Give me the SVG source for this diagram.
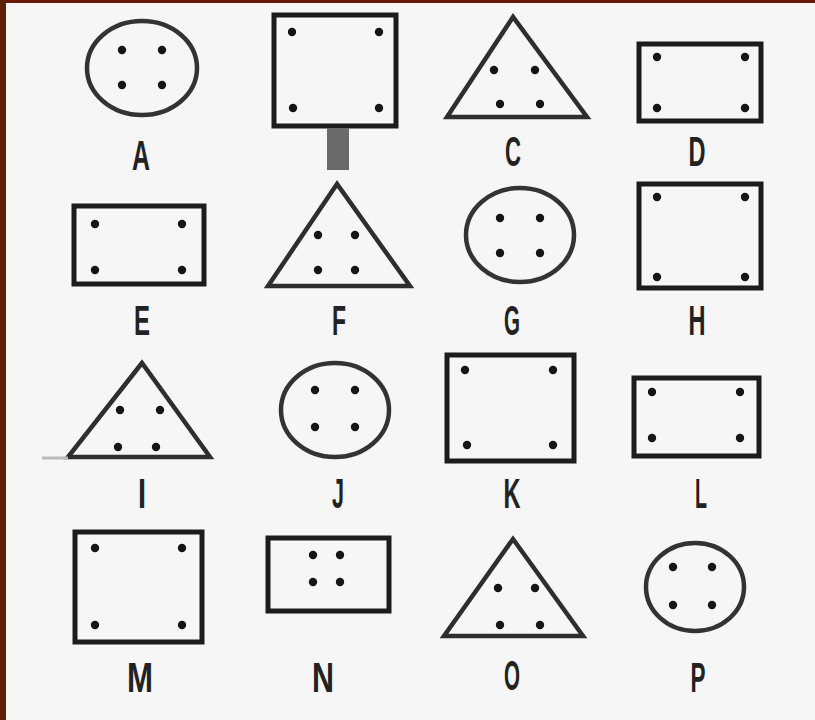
<svg xmlns="http://www.w3.org/2000/svg" width="815" height="720" viewBox="0 0 815 720">
<style>
.s{fill:none;stroke:#1c1c1c;stroke-width:5}
.t{fill:none;stroke:#2e2e2e;stroke-width:4.5;stroke-linejoin:miter}
.c{fill:none;stroke:#333;stroke-width:4.5}
.d{fill:#151515}
.l{font-family:"Liberation Sans",Arial,sans-serif;font-weight:bold;font-size:42px;fill:#222;text-anchor:middle}
</style>
<defs>
<circle id="dot" r="4.2" class="d"/>
</defs>
<rect x="0" y="0" width="815" height="720" fill="#f6f6f6"/>
<rect x="0" y="0" width="815" height="3" fill="#6a1a06"/>
<rect x="0" y="0" width="6" height="720" fill="#5c1e05"/>

<g id="A">
<ellipse cx="142" cy="68" rx="55" ry="47" class="c"/>
<use href="#dot" x="122" y="50"/><use href="#dot" x="162" y="50"/><use href="#dot" x="122" y="85"/><use href="#dot" x="162" y="85"/>
<text x="141" y="170" class="l" textLength="18" lengthAdjust="spacingAndGlyphs">A</text>
</g>
<g id="B">
<rect x="274" y="15" width="122" height="111" class="s"/>
<use href="#dot" x="292" y="32"/><use href="#dot" x="379" y="32"/><use href="#dot" x="293" y="108"/><use href="#dot" x="379" y="108"/>
<rect x="327" y="128" width="22" height="42" fill="#6a6a6a"/>
</g>
<g id="C">
<polygon points="513,17 447,117 587,117" class="t"/>
<use href="#dot" x="494" y="70"/><use href="#dot" x="535" y="70"/><use href="#dot" x="500" y="104"/><use href="#dot" x="540" y="104"/>
<text x="513" y="166" class="l" textLength="16" lengthAdjust="spacingAndGlyphs">C</text>
</g>
<g id="D">
<rect x="639" y="44" width="122" height="77" class="s"/>
<use href="#dot" x="657" y="57"/><use href="#dot" x="745" y="57"/><use href="#dot" x="657" y="108"/><use href="#dot" x="745" y="108"/>
<text x="697" y="166" class="l" textLength="17" lengthAdjust="spacingAndGlyphs">D</text>
</g>

<g id="E">
<rect x="74" y="206" width="130" height="78" class="s"/>
<use href="#dot" x="95" y="224"/><use href="#dot" x="182" y="224"/><use href="#dot" x="95" y="270"/><use href="#dot" x="182" y="270"/>
<text x="142" y="335" class="l" textLength="16" lengthAdjust="spacingAndGlyphs">E</text>
</g>
<g id="F">
<polygon points="337,184 268,286 410,286" class="t"/>
<use href="#dot" x="318" y="235"/><use href="#dot" x="355" y="235"/><use href="#dot" x="318" y="270"/><use href="#dot" x="355" y="270"/>
<text x="339" y="335" class="l" textLength="14" lengthAdjust="spacingAndGlyphs">F</text>
</g>
<g id="G">
<ellipse cx="520" cy="235" rx="54" ry="47" class="c"/>
<use href="#dot" x="500" y="218"/><use href="#dot" x="540" y="218"/><use href="#dot" x="500" y="253"/><use href="#dot" x="540" y="253"/>
<text x="512" y="335" class="l" textLength="16" lengthAdjust="spacingAndGlyphs">G</text>
</g>
<g id="H">
<rect x="639" y="184" width="122" height="104" class="s"/>
<use href="#dot" x="657" y="197"/><use href="#dot" x="745" y="197"/><use href="#dot" x="657" y="277"/><use href="#dot" x="745" y="277"/>
<text x="697" y="335" class="l" textLength="17" lengthAdjust="spacingAndGlyphs">H</text>
</g>

<g id="I">
<polygon points="142,363 68,457 210,457" class="t"/>
<line x1="42" y1="458" x2="68" y2="458" stroke="#bbb" stroke-width="3"/>
<use href="#dot" x="120" y="410"/><use href="#dot" x="160" y="410"/><use href="#dot" x="118" y="447"/><use href="#dot" x="156" y="447"/>
<text x="142" y="508" class="l" textLength="8" lengthAdjust="spacingAndGlyphs">I</text>
</g>
<g id="J">
<ellipse cx="335" cy="410" rx="54" ry="47" class="c"/>
<use href="#dot" x="315" y="390"/><use href="#dot" x="355" y="390"/><use href="#dot" x="315" y="427"/><use href="#dot" x="355" y="427"/>
<text x="338" y="508" class="l" textLength="12" lengthAdjust="spacingAndGlyphs">J</text>
</g>
<g id="K">
<rect x="447" y="355" width="127" height="106" class="s"/>
<use href="#dot" x="465" y="370"/><use href="#dot" x="553" y="370"/><use href="#dot" x="467" y="445"/><use href="#dot" x="553" y="445"/>
<text x="512" y="508" class="l" textLength="17" lengthAdjust="spacingAndGlyphs">K</text>
</g>
<g id="L">
<rect x="634" y="378" width="125" height="78" class="s"/>
<use href="#dot" x="652" y="392"/><use href="#dot" x="740" y="392"/><use href="#dot" x="652" y="438"/><use href="#dot" x="740" y="438"/>
<text x="701" y="508" class="l" textLength="12" lengthAdjust="spacingAndGlyphs">L</text>
</g>

<g id="M">
<rect x="75" y="532" width="127" height="110" class="s"/>
<use href="#dot" x="95" y="548"/><use href="#dot" x="182" y="548"/><use href="#dot" x="95" y="625"/><use href="#dot" x="182" y="625"/>
<text x="140" y="692" class="l" textLength="26" lengthAdjust="spacingAndGlyphs">M</text>
</g>
<g id="N">
<rect x="268" y="538" width="121" height="73" class="s"/>
<use href="#dot" x="313" y="555"/><use href="#dot" x="340" y="555"/><use href="#dot" x="313" y="582"/><use href="#dot" x="340" y="582"/>
<text x="323" y="692" class="l" textLength="22" lengthAdjust="spacingAndGlyphs">N</text>
</g>
<g id="O">
<polygon points="513,539 444,636 583,636" class="t"/>
<use href="#dot" x="498" y="588"/><use href="#dot" x="535" y="588"/><use href="#dot" x="500" y="625"/><use href="#dot" x="540" y="625"/>
<text x="512" y="690" class="l" textLength="16" lengthAdjust="spacingAndGlyphs">O</text>
</g>
<g id="P">
<ellipse cx="695" cy="587" rx="49" ry="44" class="c"/>
<use href="#dot" x="673" y="567"/><use href="#dot" x="712" y="567"/><use href="#dot" x="673" y="605"/><use href="#dot" x="712" y="605"/>
<text x="698" y="692" class="l" textLength="15" lengthAdjust="spacingAndGlyphs">P</text>
</g>
</svg>
